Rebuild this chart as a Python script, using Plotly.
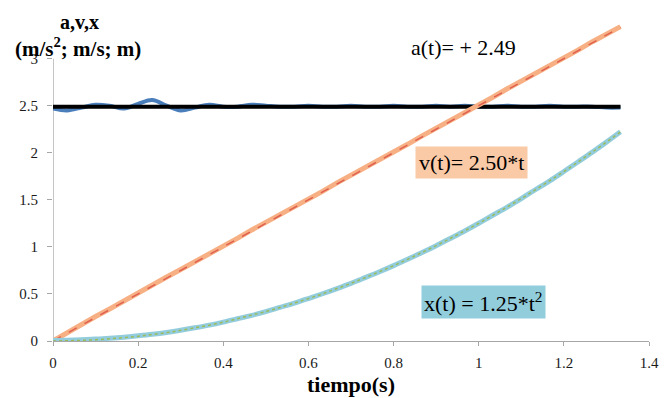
import plotly.graph_objects as go

# ---- data ----
t = [0.000, 0.033, 0.067, 0.100, 0.133, 0.167, 0.200, 0.233, 0.267, 0.300,
     0.333, 0.367, 0.400, 0.433, 0.467, 0.500, 0.533, 0.567, 0.600, 0.633,
     0.667, 0.700, 0.733, 0.767, 0.800, 0.833, 0.867, 0.900, 0.933, 0.967,
     1.000, 1.033, 1.067, 1.100, 1.133, 1.167, 1.200, 1.233, 1.267, 1.300, 1.333]

a_meas = [2.47, 2.45, 2.48, 2.51, 2.50, 2.47, 2.52, 2.56, 2.50, 2.45,
          2.48, 2.51, 2.49, 2.49, 2.51, 2.50, 2.49, 2.49, 2.50, 2.49,
          2.49, 2.50, 2.49, 2.49, 2.50, 2.49, 2.49, 2.50, 2.49, 2.50,
          2.49, 2.49, 2.50, 2.49, 2.49, 2.50, 2.49, 2.49, 2.49, 2.48, 2.48]

v_meas = [0.00, 0.09, 0.18, 0.26, 0.34, 0.43, 0.51, 0.59, 0.68, 0.76,
          0.84, 0.93, 1.01, 1.09, 1.18, 1.26, 1.34, 1.43, 1.51, 1.59,
          1.68, 1.76, 1.84, 1.93, 2.01, 2.09, 2.18, 2.26, 2.34, 2.43,
          2.51, 2.59, 2.68, 2.76, 2.84, 2.93, 3.01, 3.09, 3.18, 3.26, 3.34]

x_meas = [0.005, 0.008, 0.013, 0.020, 0.029, 0.041, 0.055, 0.071, 0.091, 0.114,
          0.140, 0.169, 0.201, 0.236, 0.273, 0.313, 0.357, 0.402, 0.451, 0.502,
          0.557, 0.613, 0.673, 0.736, 0.801, 0.869, 0.940, 1.013, 1.090, 1.169,
          1.251, 1.336, 1.423, 1.513, 1.607, 1.702, 1.801, 1.902, 2.007, 2.113, 2.223]

# fitted functions shown on the chart
a_fit_t = [0.0, 1.333]
a_fit = [2.49, 2.49]
v_fit_t = [0.0, 1.333]
v_fit = [0.0, 3.333]
x_fit = [0.000, 0.001, 0.006, 0.013, 0.022, 0.035, 0.050, 0.068, 0.089, 0.113,
         0.139, 0.168, 0.200, 0.235, 0.272, 0.313, 0.356, 0.401, 0.450, 0.501,
         0.556, 0.613, 0.672, 0.735, 0.800, 0.868, 0.939, 1.013, 1.089, 1.168,
         1.250, 1.335, 1.422, 1.513, 1.606, 1.701, 1.800, 1.901, 2.006, 2.113, 2.222]

x_ticks = [0, 0.2, 0.4, 0.6, 0.8, 1, 1.2, 1.4]
x_tick_text = ["0", "0.2", "0.4", "0.6", "0.8", "1", "1.2", "1.4"]
y_ticks = [0, 0.5, 1, 1.5, 2, 2.5, 3]
y_tick_text = ["0", "0.5", "1", "1.5", "2", "2.5", "3"]

SERIF = "Liberation Serif"
AXIS_COLOR = "#A6A6A6"

fig = go.Figure()

# acceleration data + fit
fig.add_trace(go.Scatter(x=t, y=a_meas, mode="lines", line=dict(color="#4A7EBB", width=4, shape="spline"),
                         hoverinfo="skip"))
fig.add_trace(go.Scatter(x=a_fit_t, y=a_fit, mode="lines", line=dict(color="#000000", width=4),
                         hoverinfo="skip"))
# velocity data + fit
fig.add_trace(go.Scatter(x=t, y=v_meas, mode="lines", line=dict(color="#F7B084", width=5),
                         hoverinfo="skip"))
fig.add_trace(go.Scatter(x=v_fit_t, y=v_fit, mode="lines", line=dict(color="#E0604F", width=1.5, dash="dash"),
                         hoverinfo="skip"))
# position data + fit
fig.add_trace(go.Scatter(x=t, y=x_meas, mode="lines", line=dict(color="#93CDDD", width=5, shape="spline"),
                         hoverinfo="skip"))
fig.add_trace(go.Scatter(x=t, y=x_fit, mode="lines", line=dict(color="#9BBB59", width=1.5, dash="dot"),
                         hoverinfo="skip"))

# plot area pixel geometry
L, R, T, B = 53, 10, 21, 57
W, H = 669, 398
pw, ph = W - L - R, H - T - B


def px(xp):
    return (xp - L) / pw


def py(yp):
    return (H - B - yp) / ph


# y axis line only up to 3
fig.add_shape(type="line", xref="x", yref="y", x0=0, x1=0, y0=0, y1=3,
              line=dict(color=AXIS_COLOR, width=1.3), layer="below")

ann = [
    dict(text="<b>a,v,x</b>", x=px(80), y=py(22), font=dict(size=20)),
    dict(text="<b>(m/s<sup>2</sup>; m/s; m)</b>", x=px(78), y=py(47), font=dict(size=21)),
    dict(text="a(t)= + 2.49", x=px(470), y=py(47), font=dict(size=22)),
    dict(text="v(t)= 2.50*t", x=px(479), y=py(162), font=dict(size=22), bgcolor="#FAC9A6", borderpad=3),
    dict(text="x(t) = 1.25*t<sup>2</sup>", x=px(491), y=py(302), font=dict(size=22), bgcolor="#92CDDC",
         borderpad=2),
    dict(text="<b>tiempo(s)</b>", x=px(356), y=py(384), font=dict(size=22)),
]
for a in ann:
    a.update(xref="paper", yref="paper", xanchor="center", yanchor="middle", showarrow=False)
    a["font"].update(family=SERIF, color="#000000")
    fig.add_annotation(**a)

fig.update_layout(
    width=W, height=H,
    margin=dict(l=L, r=R, t=T, b=B),
    paper_bgcolor="white", plot_bgcolor="white",
    showlegend=False,
    font=dict(family=SERIF, color="#1A1A1A"),
    xaxis=dict(range=[0, 1.4], tickvals=x_ticks, ticktext=x_tick_text, showgrid=False, zeroline=False,
               showline=True, linecolor=AXIS_COLOR, linewidth=1.3, ticks="outside", ticklen=4,
               tickcolor=AXIS_COLOR, tickfont=dict(size=15, family=SERIF, color="#1A1A1A"),
               ticklabelstandoff=4),
    yaxis=dict(range=[0, 3.4], tickvals=y_ticks, ticktext=y_tick_text, showgrid=False, zeroline=False,
               showline=False, ticks="outside", ticklen=5, tickcolor=AXIS_COLOR,
               tickfont=dict(size=15, family=SERIF, color="#1A1A1A"), ticklabelstandoff=6),
)

fig.write_html("out.html")
